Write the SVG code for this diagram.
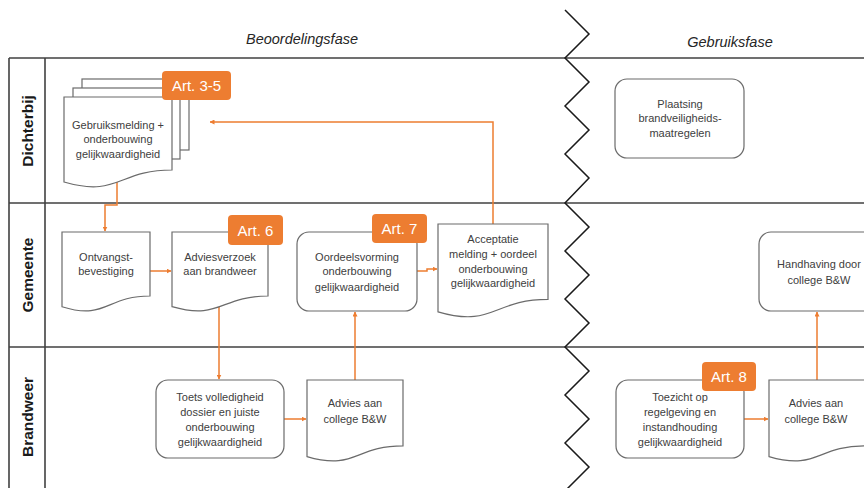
<svg xmlns="http://www.w3.org/2000/svg" width="864" height="488" viewBox="0 0 864 488">
<defs>
<style>
.lane{stroke:#404040;stroke-width:1.6;fill:none}
.zig{stroke:#1a1a1a;stroke-width:1.5;fill:none;stroke-linejoin:miter}
.shape{fill:#fff;stroke:#6b6b6b;stroke-width:1.2}
.t{font-family:"Liberation Sans",Arial,sans-serif;font-size:11px;fill:#404040;text-anchor:middle}
.lbl{font-family:"Liberation Sans",Arial,sans-serif;font-size:15.5px;font-weight:bold;fill:#1a1a1a;text-anchor:middle}
.phase{font-family:"Liberation Sans",Arial,sans-serif;font-size:14.5px;font-style:italic;fill:#262626;text-anchor:middle}
.badge{fill:#ED7D31}
.bt{font-family:"Liberation Sans",Arial,sans-serif;font-size:15px;fill:#fff;text-anchor:middle}
.con{stroke:#ED7D31;stroke-width:1.5;fill:none}
</style>
<marker id="ah" viewBox="0 0 10 10" refX="9" refY="5" markerWidth="5" markerHeight="5" orient="auto" markerUnits="userSpaceOnUse">
<path d="M0,0 L10,5 L0,10 Z" fill="#ED7D31"/>
</marker>
</defs>
<rect width="864" height="488" fill="#fff"/>

<g id="frame">
<line class="lane" x1="9" y1="58" x2="864" y2="58"/>
<line class="lane" x1="9" y1="203" x2="864" y2="203"/>
<line class="lane" x1="9" y1="347" x2="864" y2="347"/>
<line class="lane" x1="9" y1="58" x2="9" y2="488"/>
<line class="lane" x1="45" y1="58" x2="45" y2="488" stroke-width="2"/>
<polyline class="zig" points="565,10 589,34 565,58 589,82 565,106 589,130 565,154 589,178 565,203 589,227 565,251 589,275 565,299 589,323 565,347 589,371 565,395 589,419 565,443 589,467 565,491"/>
<text class="phase" x="302" y="44">Beoordelingsfase</text>
<text class="phase" x="730" y="47">Gebruiksfase</text>
<text class="lbl" transform="translate(33,131) rotate(-90)">Dichterbij</text>
<text class="lbl" transform="translate(33,275) rotate(-90)">Gemeente</text>
<text class="lbl" transform="translate(33,417) rotate(-90)">Brandweer</text>
</g>

<g id="connectors">
<path class="con" d="M117,182 V205 H105 V231" marker-end="url(#ah)"/>
<path class="con" d="M150,271 H171" marker-end="url(#ah)"/>
<path class="con" d="M219,300 V379" marker-end="url(#ah)"/>
<path class="con" d="M284,419 H306" marker-end="url(#ah)"/>
<path class="con" d="M355,380 V312" marker-end="url(#ah)"/>
<path class="con" d="M417,271 H427 V269 H437" marker-end="url(#ah)"/>
<path class="con" d="M493,224 V122 H210" marker-end="url(#ah)"/>
<path class="con" d="M744,419 H768" marker-end="url(#ah)"/>
<path class="con" d="M817,380 V312" marker-end="url(#ah)"/>
</g>

<g id="gebruiksmelding">
<rect class="shape" x="82" y="79" width="107" height="71"/>
<rect class="shape" x="73" y="88" width="107" height="71"/>
<path class="shape" d="M64,97 H172 V170 C118,170 118,197.7 64,182 Z"/>
<text class="t" x="118" y="129">Gebruiksmelding +</text>
<text class="t" x="118" y="143">onderbouwing</text>
<text class="t" x="118" y="158">gelijkwaardigheid</text>
<rect class="badge" x="162" y="71" width="69" height="29" rx="4"/>
<text class="bt" x="196.5" y="91">Art. 3-5</text>
</g>

<g id="plaatsing">
<rect class="shape" x="615" y="79" width="129" height="79" rx="12"/>
<text class="t" x="680" y="108">Plaatsing</text>
<text class="t" x="680" y="122">brandveiligheids-</text>
<text class="t" x="680" y="137">maatregelen</text>
</g>

<g id="ontvangst">
<path class="shape" d="M62,232 H150 V296 C106,296 106,320.6 62,306.7 Z"/>
<text class="t" x="106" y="261">Ontvangst-</text>
<text class="t" x="106" y="275">bevestiging</text>
</g>

<g id="adviesverzoek">
<path class="shape" d="M172,232 H268 V296 C220,296 220,320.6 172,306.7 Z"/>
<text class="t" x="220" y="261">Adviesverzoek</text>
<text class="t" x="220" y="275">aan brandweer</text>
<rect class="badge" x="228" y="215" width="55" height="30" rx="4"/>
<text class="bt" x="255.5" y="235.5">Art. 6</text>
</g>

<g id="oordeelsvorming">
<rect class="shape" x="297" y="232" width="120" height="79" rx="12"/>
<text class="t" x="357" y="261">Oordeelsvorming</text>
<text class="t" x="357" y="275">onderbouwing</text>
<text class="t" x="357" y="291">gelijkwaardigheid</text>
<rect class="badge" x="372" y="214" width="55" height="29" rx="4"/>
<text class="bt" x="399.5" y="234">Art. 7</text>
</g>

<g id="acceptatie">
<path class="shape" d="M438,224 H548 V299.4 C493,299.4 493,328 438,311.8 Z"/>
<text class="t" x="493" y="243">Acceptatie</text>
<text class="t" x="493" y="258">melding + oordeel</text>
<text class="t" x="493" y="273">onderbouwing</text>
<text class="t" x="493" y="287">gelijkwaardigheid</text>
</g>

<g id="handhaving">
<rect class="shape" x="759" y="232" width="120" height="79" rx="12"/>
<text class="t" x="819" y="268">Handhaving door</text>
<text class="t" x="819" y="284">college B&amp;W</text>
</g>

<g id="toets">
<rect class="shape" x="156" y="380" width="128" height="78" rx="12"/>
<text class="t" x="220" y="401">Toets volledigheid</text>
<text class="t" x="220" y="416">dossier en juiste</text>
<text class="t" x="220" y="431">onderbouwing</text>
<text class="t" x="220" y="446">gelijkwaardigheid</text>
</g>

<g id="advies1">
<path class="shape" d="M307,380 H403 V445.8 C355,445.8 355,470.8 307,456.6 Z"/>
<text class="t" x="355" y="407">Advies aan</text>
<text class="t" x="355" y="423">college B&amp;W</text>
</g>

<g id="toezicht">
<rect class="shape" x="616" y="380" width="128" height="78" rx="12"/>
<text class="t" x="680" y="401">Toezicht op</text>
<text class="t" x="680" y="416">regelgeving en</text>
<text class="t" x="680" y="431">instandhouding</text>
<text class="t" x="680" y="446">gelijkwaardigheid</text>
<rect class="badge" x="702" y="362" width="54" height="29" rx="4"/>
<text class="bt" x="729" y="382">Art. 8</text>
</g>

<g id="advies2">
<path class="shape" d="M769,380 H865 V445.8 C817,445.8 817,470.8 769,456.6 Z"/>
<text class="t" x="816" y="407">Advies aan</text>
<text class="t" x="816" y="423">college B&amp;W</text>
</g>
</svg>
